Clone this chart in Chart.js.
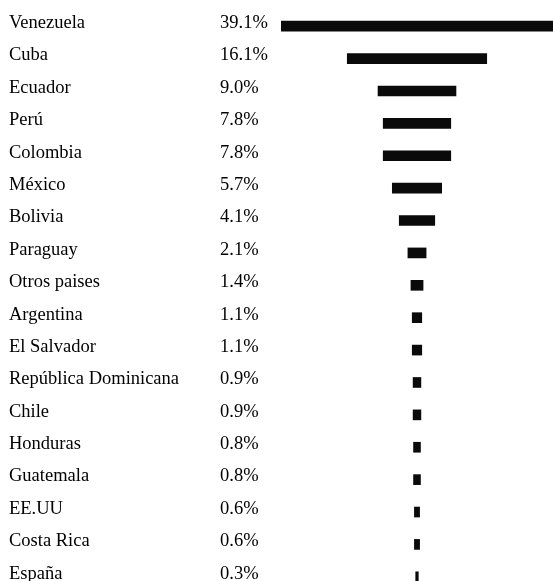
<!DOCTYPE html>
<html>
<head>
<meta charset="utf-8">
<script src="https://cdn.jsdelivr.net/npm/chart.js@4/dist/chart.umd.min.js"></script>
<style>
  html, body { margin: 0; padding: 0; background: #fff; overflow: hidden; }
  canvas { display: block; }
</style>
</head>
<body>
<canvas id="myChart" width="553" height="600"></canvas>
<script>
const countries = [
  "Venezuela", "Cuba", "Ecuador", "Perú", "Colombia", "México", "Bolivia",
  "Paraguay", "Otros paises", "Argentina", "El Salvador", "República Dominicana",
  "Chile", "Honduras", "Guatemala", "EE.UU", "Costa Rica", "España"
]
const shares = [
  39.1, 16.1, 9.0, 7.8, 7.8, 5.7, 4.1, 2.1, 1.4, 1.1, 1.1, 0.9,
  0.9, 0.8, 0.8, 0.6, 0.6, 0.3
]
const shareLabels = shares.map(v => v.toFixed(1) + "%")

const colors = {
  bar: "#0a0a0a",
  text: "#000000"
}

const font = { family: "'Liberation Serif', 'Times New Roman', serif", size: 18.5 }

const ctx = document.getElementById("myChart").getContext("2d")

// funnel: each bar is centered on zero
const data = {
  labels: countries,
  datasets: [
    {
      label: "",
      data: shares.map(v => [-v / 2, v / 2]),
      backgroundColor: colors.bar,
      borderWidth: 0,
      borderSkipped: false,
      barThickness: 10,
      clip: 0
    }
  ]
}

// fixed column width, and no extra room above / below for half labels
const fitColumn = width => scale => {
  scale.width = width
  scale.paddingTop = 0
  scale.paddingBottom = 0
}

const config = {
  type: "bar",
  data: data,
  options: {
    indexAxis: "y",
    responsive: false,
    animation: false,
    layout: { padding: { left: 9, top: 10, right: 0, bottom: 7 } },
    plugins: {
      legend: { display: false },
      tooltip: { enabled: false }
    },
    scales: {
      x: {
        display: false,
        min: -15.7,
        max: 15.7,
        grid: { display: false }
      },
      y: {
        position: "left",
        weight: 1,
        grid: { display: false },
        border: { display: false },
        ticks: {
          crossAlign: "far",
          labelOffset: -3,
          color: colors.text,
          font: font,
          autoSkip: false
        },
        afterFit: fitColumn(211)
      },
      y2: {
        type: "category",
        labels: shareLabels,
        position: "left",
        weight: 0,
        offset: true,
        grid: { display: false },
        border: { display: false },
        ticks: {
          crossAlign: "far",
          labelOffset: -3,
          color: colors.text,
          font: font,
          autoSkip: false
        },
        afterFit: fitColumn(61)
      }
    }
  }
}

new Chart(ctx, config)
</script>
</body>
</html>
